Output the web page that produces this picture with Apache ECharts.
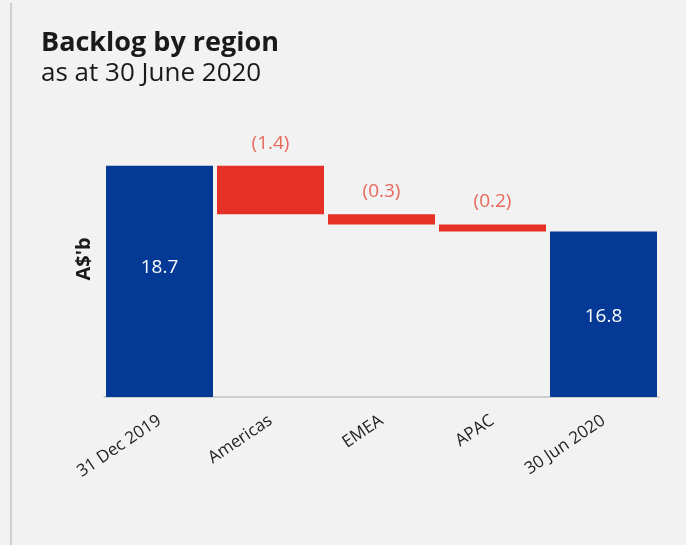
<!DOCTYPE html>
<html>
<head>
<meta charset="utf-8">
<script src="https://cdn.jsdelivr.net/npm/echarts@6/dist/echarts.min.js"></script>
<style>
  html, body { margin: 0; padding: 0; background: #f2f2f2; }
  #chart { width: 686px; height: 545px; }
</style>
</head>
<body>
<div id="chart"></div>
<script>
// Backlog waterfall: opening total, regional movements, closing total
const categories = ['31 Dec 2019', 'Americas', 'EMEA', 'APAC', '30 Jun 2020'];
const openingTotal = 18.7;
const regionChanges = [-1.4, -0.3, -0.2];
const closingTotal = 16.8;

const BLUE = '#043a96';
const RED = '#e53125';
const FONT = '"Open Sans", "Noto Sans", sans-serif';

// Build the invisible base and the visible step for each category
const baseData = ['-'];
const stepData = ['-'];
let running = openingTotal;
regionChanges.forEach(function (d) {
  const next = +(running + d).toFixed(2);
  baseData.push(Math.min(running, next));
  stepData.push(Math.abs(d));
  running = next;
});
baseData.push('-');
stepData.push('-');

const totalData = [
  { value: openingTotal, label: { offset: [0, -14] } },
  '-', '-', '-',
  { value: closingTotal, label: { offset: [0, 2] } }
];

const chart = echarts.init(document.getElementById('chart'), null, { renderer: 'canvas' });
chart.setOption({
  backgroundColor: '#f2f2f2',
  animation: false,
  title: {
    text: 'Backlog by region',
    subtext: 'as at 30 June 2020',
    left: 36,
    top: 25,
    itemGap: 4,
    textStyle: { fontFamily: FONT, fontSize: 27, fontWeight: 'bold', color: '#1a1a1a' },
    subtextStyle: { fontFamily: FONT, fontSize: 26, color: '#1a1a1a' }
  },
  graphic: [{
    type: 'rect',
    shape: { x: 10, y: 3, width: 2, height: 542 },
    style: { fill: '#cfcfcf' },
    silent: true
  }],
  grid: { left: 104, right: 27, top: 121, bottom: 148 },
  xAxis: {
    type: 'category',
    data: categories,
    axisLine: { lineStyle: { color: '#c4c4c4', width: 1.5 } },
    axisTick: { show: false },
    axisLabel: {
      rotate: 34,
      margin: 22,
      fontFamily: FONT,
      fontSize: 17,
      color: '#222'
    }
  },
  yAxis: {
    type: 'value',
    min: 12,
    max: 20,
    name: "A$'b",
    nameLocation: 'middle',
    nameGap: 10,
    nameRotate: 90,
    nameTextStyle: { fontFamily: FONT, fontSize: 20, fontWeight: 'bold', color: '#1a1a1a' },
    axisLine: { show: false },
    axisTick: { show: false },
    axisLabel: { show: false },
    splitLine: { show: false }
  },
  series: [
    {
      type: 'bar',
      stack: 'wf',
      barCategoryGap: '3.6%',
      itemStyle: { color: 'transparent' },
      emphasis: { disabled: true },
      data: baseData
    },
    {
      type: 'bar',
      stack: 'wf',
      itemStyle: { color: RED },
      label: {
        show: true,
        position: 'top',
        distance: 13,
        fontFamily: FONT,
        fontSize: 19,
        color: '#e8685a',
        formatter: function (p) { return '(' + p.value.toFixed(1) + ')'; }
      },
      data: stepData
    },
    {
      type: 'bar',
      stack: 'wf',
      itemStyle: { color: BLUE },
      label: {
        show: true,
        position: 'inside',
        fontFamily: FONT,
        fontSize: 19,
        color: '#ffffff',
        formatter: function (p) { return p.value.toFixed(1); }
      },
      data: totalData
    }
  ]
});
</script>
</body>
</html>
